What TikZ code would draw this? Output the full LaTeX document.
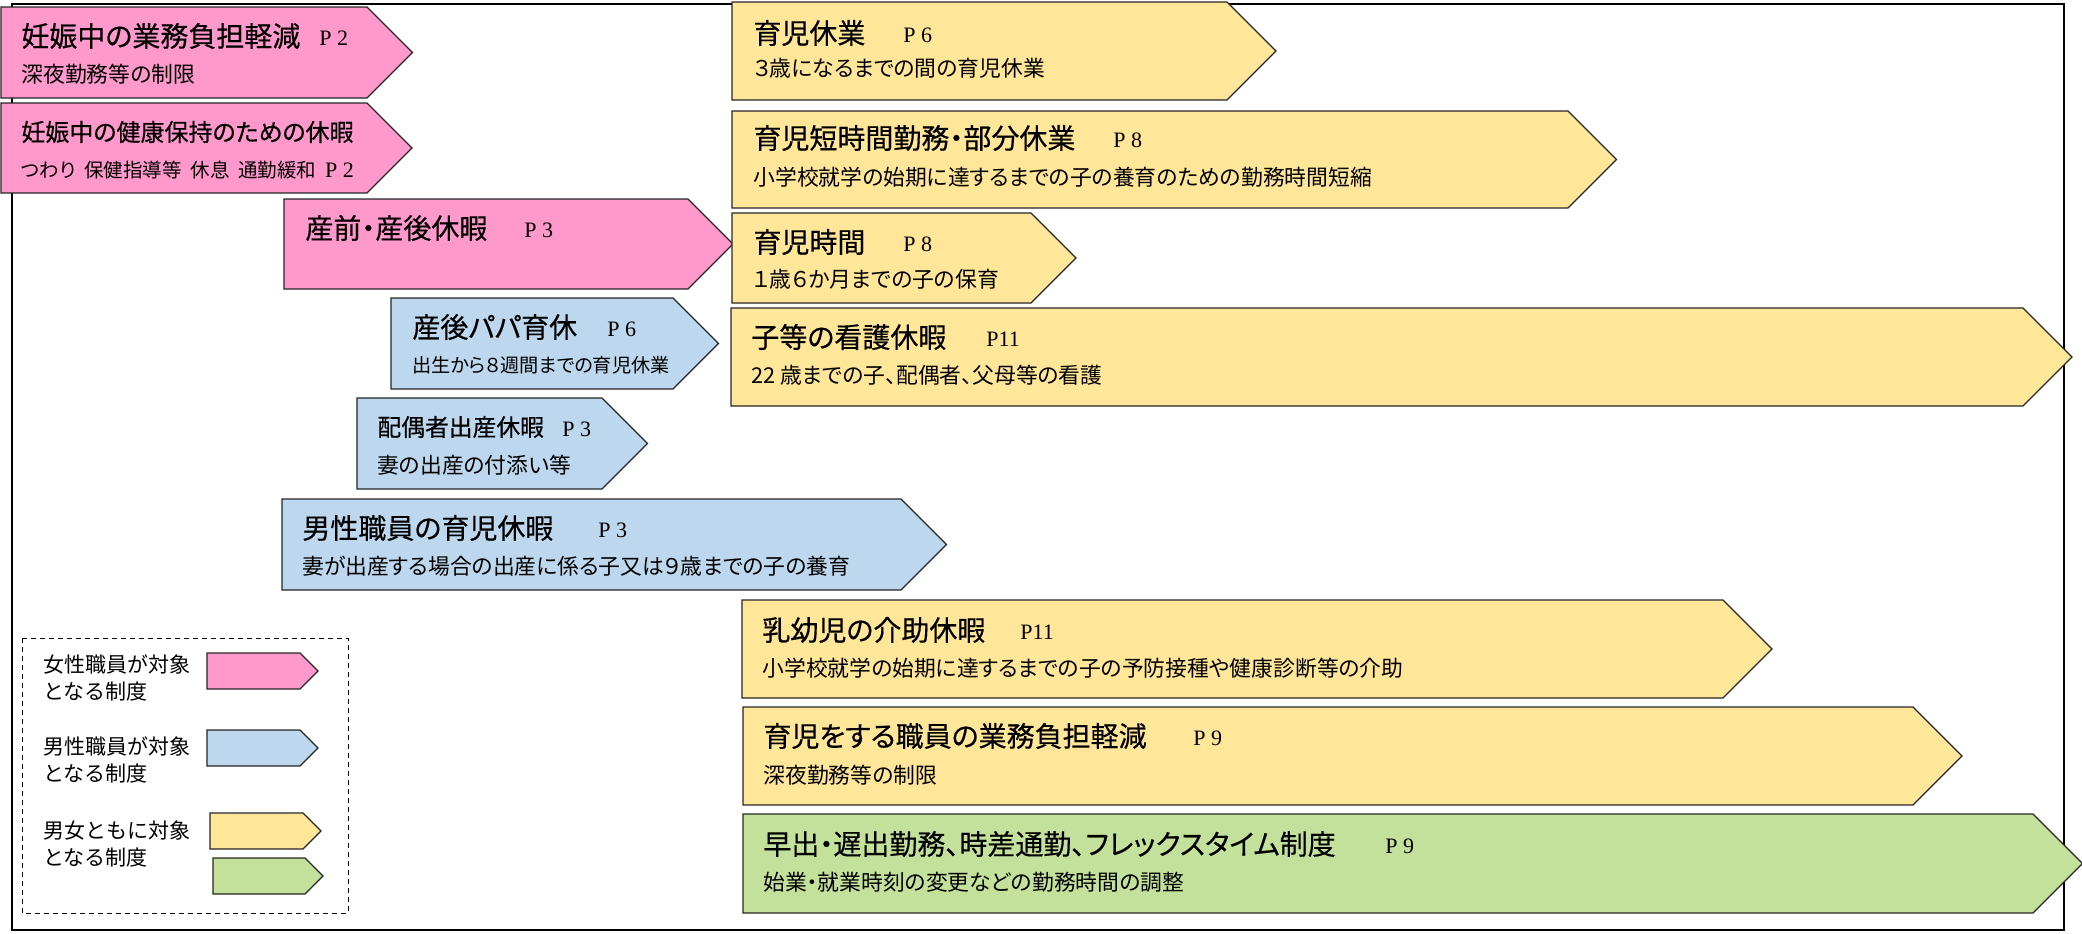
\documentclass[tikz,border=0pt]{standalone}
\usepackage{fontspec}
\setmainfont{Liberation Serif}
\newfontfamily\jpttl[CharacterWidth=AlternateProportional, FakeBold=0.4]{Noto Sans CJK JP}
\newfontfamily\jpsub[CharacterWidth=AlternateProportional]{Noto Sans CJK JP}
\newfontfamily\jplgd{Noto Sans CJK JP}

\definecolor{pinkfill}{HTML}{FF99CC}
\definecolor{bluefill}{HTML}{BDD7EE}
\definecolor{yellowfill}{HTML}{FFE699}
\definecolor{greenfill}{HTML}{C4E19B}

% left, top, straight end, bottom, colour
\newcommand{\seido}[5]{%
  \draw[seidobox, fill=#5] (#1,#2) -- (#3,#2) -- ({#3+(#4-#2)/2},{(#2+#4)/2})
    -- (#3,#4) -- (#1,#4) -- cycle;
}

\tikzset{
  seidobox/.style={draw=black!85, line width=0.6pt},
  ttl/.style={anchor=west, inner sep=0pt, font=\jpttl\fontsize{14}{16}\selectfont},
  subtxt/.style={anchor=west, inner sep=0pt, font=\jpsub\fontsize{10.9}{13}\selectfont},
  pg/.style={anchor=west, inner sep=0pt, font=\fontsize{11}{13}\selectfont},
  lgd/.style={anchor=west, inner sep=0pt, align=left, font=\jplgd\fontsize{10.5}{13.5}\selectfont},
}

\begin{document}
\begin{tikzpicture}[x=0.5pt, y=-0.5pt]

    \useasboundingbox (0,0) rectangle (2082,933);
    \draw[line width=1.2pt] (12,4) rectangle (2064,930);

    % female
    \seido{1}{7}{367}{98}{pinkfill}
    \node[ttl] at (21,36) (t1) {妊娠中の業務負担軽減};
    \node[pg] at (319,38) (p1) {P 2};
    \node[subtxt] at (21,74) (s1) {深夜勤務等の制限};

    \seido{1}{103}{367}{193}{pinkfill}
    \node[ttl, font=\jpttl\fontsize{12}{14}\selectfont] at (21,132) (t2) {妊娠中の健康保持のための休暇};
    \node[subtxt, font=\jpsub\fontsize{9.75}{12}\selectfont] at (21,170) (s2)
      {つわり\hspace{0.45em}保健指導等\hspace{0.45em}休息\hspace{0.45em}通勤緩和\hspace{0.45em}{\rmfamily\fontsize{11}{13}\selectfont P 2}};

    \seido{284}{199}{688}{289}{pinkfill}
    \node[ttl] at (305,228) (t3) {産前・産後休暇};
    \node[pg] at (524,230) (p3) {P 3};

    % male
    \seido{391}{298}{673}{389}{bluefill}
    \node[ttl] at (412,327) (t4) {産後パパ育休};
    \node[pg] at (607,329) (p4) {P 6};
    \node[subtxt, font=\jpsub\fontsize{9.6}{12}\selectfont] at (412,365) (s4) {出生から８週間までの育児休業};

    \seido{357}{398}{602}{489}{bluefill}
    \node[ttl, font=\jpttl\fontsize{11.9}{14}\selectfont] at (377,427) (t5) {配偶者出産休暇};
    \node[pg] at (562,429) (p5) {P 3};
    \node[subtxt] at (377,465) (s5) {妻の出産の付添い等};

    \seido{282}{499}{901}{590}{bluefill}
    \node[ttl] at (302,528) (t6) {男性職員の育児休暇};
    \node[pg] at (598,530) (p6) {P 3};
    \node[subtxt] at (302,566) (s6) {妻が出産する場合の出産に係る子又は９歳までの子の養育};

    % both
    \seido{732}{2}{1227}{100}{yellowfill}
    \node[ttl] at (753,33) (t7) {育児休業};
    \node[pg] at (903,35) (p7) {P 6};
    \node[subtxt] at (753,68) (s7) {３歳になるまでの間の育児休業};

    \seido{732}{111}{1568}{208}{yellowfill}
    \node[ttl] at (753,138) (t8) {育児短時間勤務・部分休業};
    \node[pg] at (1113,140) (p8) {P 8};
    \node[subtxt] at (753,177) (s8) {小学校就学の始期に達するまでの子の養育のための勤務時間短縮};

    \seido{732}{213}{1031}{303}{yellowfill}
    \node[ttl] at (753,242) (t9) {育児時間};
    \node[pg] at (903,244) (p9) {P 8};
    \node[subtxt] at (753,279) (s9) {１歳６か月までの子の保育};

    \seido{731}{308}{2023}{406}{yellowfill}
    \node[ttl] at (751,337) (t10) {子等の看護休暇};
    \node[pg] at (986,339) (p10) {P11};
    \node[subtxt] at (751,375) (s10) {22 歳までの子、配偶者、父母等の看護};

    \seido{742}{600}{1723}{698}{yellowfill}
    \node[ttl] at (762,630) (t11) {乳幼児の介助休暇};
    \node[pg] at (1020,632) (p11) {P11};
    \node[subtxt] at (762,668) (s11) {小学校就学の始期に達するまでの子の予防接種や健康診断等の介助};

    \seido{743}{707}{1913}{805}{yellowfill}
    \node[ttl] at (763,736) (t12) {育児をする職員の業務負担軽減};
    \node[pg] at (1193,738) (p12) {P 9};
    \node[subtxt] at (763,775) (s12) {深夜勤務等の制限};

    \seido{743}{814}{2033}{913}{greenfill}
    \node[ttl] at (763,844) (t13) {早出・遅出勤務、時差通勤、フレックスタイム制度};
    \node[pg] at (1385,846) (p13) {P 9};
    \node[subtxt] at (763,882) (s13) {始業・就業時刻の変更などの勤務時間の調整};

    % legend
    \draw[line width=0.5pt, dash pattern=on 2.5pt off 2pt] (22,638) rectangle (348,913);
    \node[lgd] at (43,678) (l1) {女性職員が対象\\となる制度};
    \seido{207}{653}{300}{689}{pinkfill}
    \node[lgd] at (43,760) (l2) {男性職員が対象\\となる制度};
    \seido{207}{730}{300}{766}{bluefill}
    \node[lgd] at (43,844) (l3) {男女ともに対象\\となる制度};
    \seido{210}{813}{303}{849}{yellowfill}
    \seido{213}{858}{305}{894}{greenfill}

  \end{tikzpicture}
\end{document}
